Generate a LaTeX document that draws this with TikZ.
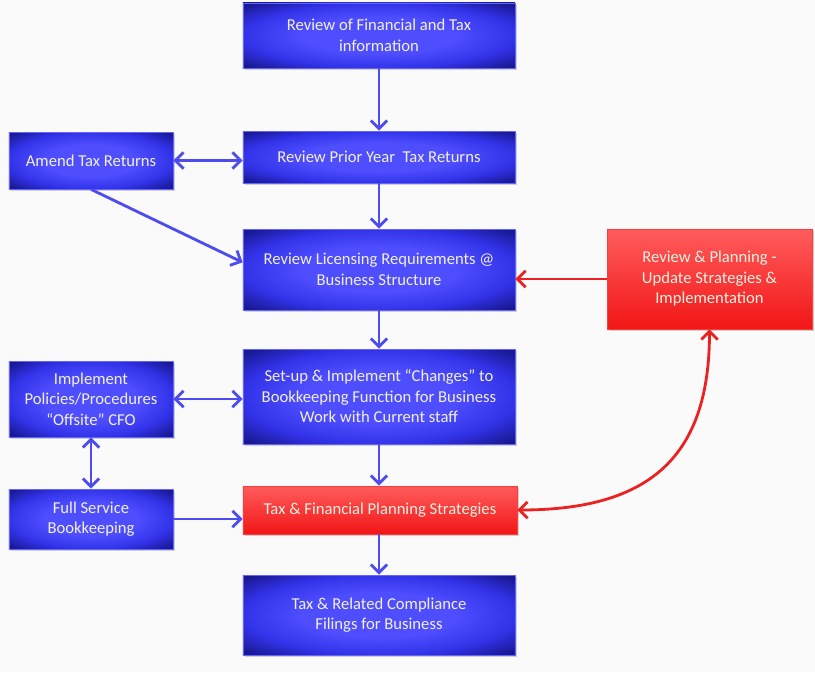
\documentclass[tikz,border=0pt]{standalone}
\usepackage{fontspec}
\setmainfont{Carlito}
\usetikzlibrary{arrows.meta,shadows}
\definecolor{bleuclair}{RGB}{78,78,255}
\definecolor{bleumoyen}{RGB}{50,50,232}
\definecolor{bleufonce}{RGB}{24,24,145}
\definecolor{bleubord}{RGB}{100,100,255}
\definecolor{rougehaut}{RGB}{255,92,92}
\definecolor{rougebas}{RGB}{242,22,22}
\definecolor{rougebord}{RGB}{255,60,60}
\definecolor{flechebleue}{RGB}{76,76,240}
\definecolor{flecherouge}{RGB}{236,34,34}
\definecolor{texteclair}{RGB}{242,240,226}
\definecolor{fond}{RGB}{250,250,250}
\pgfdeclareradialshading{lueurbleue}{\pgfpoint{0bp}{0bp}}{color(0bp)=(bleuclair); color(14bp)=(bleuclair); color(25bp)=(bleumoyen); color(34bp)=(bleufonce); color(50bp)=(bleufonce)}
\tikzset{
	boite/.style={rectangle, line width=0.6pt, text=texteclair, align=center,
		font=\fontsize{14.2}{17.5}\selectfont,
		drop shadow={shadow xshift=1.5pt, shadow yshift=-2pt, opacity=0.35}},
	boitebleue/.style={boite, draw=bleubord, shade, shading=lueurbleue},
	boiterouge/.style={boite, draw=rougebord, top color=rougehaut, bottom color=rougebas},
	grande/.style={minimum width=8.16cm},
	petite/.style={minimum width=4.92cm},
	pointe/.tip={Straight Barb[length=7pt,width=14pt]},
	fleche/.style={line width=2.4pt, color=flechebleue},
	flecheR/.style={line width=2.4pt, color=flecherouge}
}

\begin{document}
\begin{tikzpicture}[x=0.03cm,y=-0.03cm]
	% Fond %
	\fill[fond] (0,0) rectangle (815,672);
	\useasboundingbox (0,0) rectangle (815,672);
	% Colonne centrale %
	\node[boitebleue, grande, minimum height=1.95cm] (financier) at (379,35.5) {Review of Financial and Tax\\information};
	\node[boitebleue, grande, minimum height=1.56cm] (prior) at (379,157) {Review Prior Year\ \ Tax Returns};
	\node[boitebleue, grande, minimum height=2.43cm] (licence) at (379,269.5) {Review Licensing Requirements @\\Business Structure};
	\node[boitebleue, grande, minimum height=2.85cm] (setup) at (379,396.5) {Set-up \& Implement “Changes” to\\Bookkeeping Function for Business\\Work with Current staff};
	\node[boiterouge, minimum width=8.22cm, minimum height=1.44cm] (strategie) at (380,510) {Tax \& Financial Planning Strategies};
	\node[boitebleue, grande, minimum height=2.4cm] (filings) at (379,615) {Tax \& Related Compliance\\Filings for Business};
	% Colonne gauche %
	\node[boitebleue, petite, minimum height=1.71cm] (amend) at (91,160.5) {Amend Tax Returns};
	\node[boitebleue, petite, minimum height=2.28cm] (policies) at (91,399) {Implement\\Policies/Procedures\\“Offsite” CFO};
	\node[boitebleue, petite, minimum height=1.8cm] (service) at (91,519) {Full Service\\Bookkeeping};
	% Colonne droite %
	\node[boiterouge, minimum width=6.15cm, minimum height=3cm] (planning) at (709.5,279) {Review \& Planning -\\Update Strategies \&\\Implementation};
	% Fleches bleues %
	\draw[fleche, -pointe] (financier) -- (prior);
	\draw[fleche, -pointe] (prior) -- (licence);
	\draw[fleche, -pointe] (licence) -- (setup);
	\draw[fleche, -pointe] (setup) -- (strategie.north -| setup.south);
	\draw[fleche, -pointe] (strategie.south -| filings.north) -- (filings);
	\draw[fleche, pointe-pointe] (amend.east) -- (amend.east -| prior.west);
	\draw[fleche, -pointe] (amend.south) -- (licence.177);
	\draw[fleche, pointe-pointe] (policies.east) -- (policies.east -| setup.west);
	\draw[fleche, pointe-pointe] (policies) -- (service);
	\draw[fleche, -pointe] (service.east) -- (service.east -| strategie.west);
	% Fleches rouges %
	\draw[flecheR, -pointe] (planning.west) -- (planning.west -| licence.east);
	\draw[flecheR, pointe-pointe] (planning.south) .. controls +(0,126) and +(134,0) .. (strategie.east);
\end{tikzpicture}
\end{document}
